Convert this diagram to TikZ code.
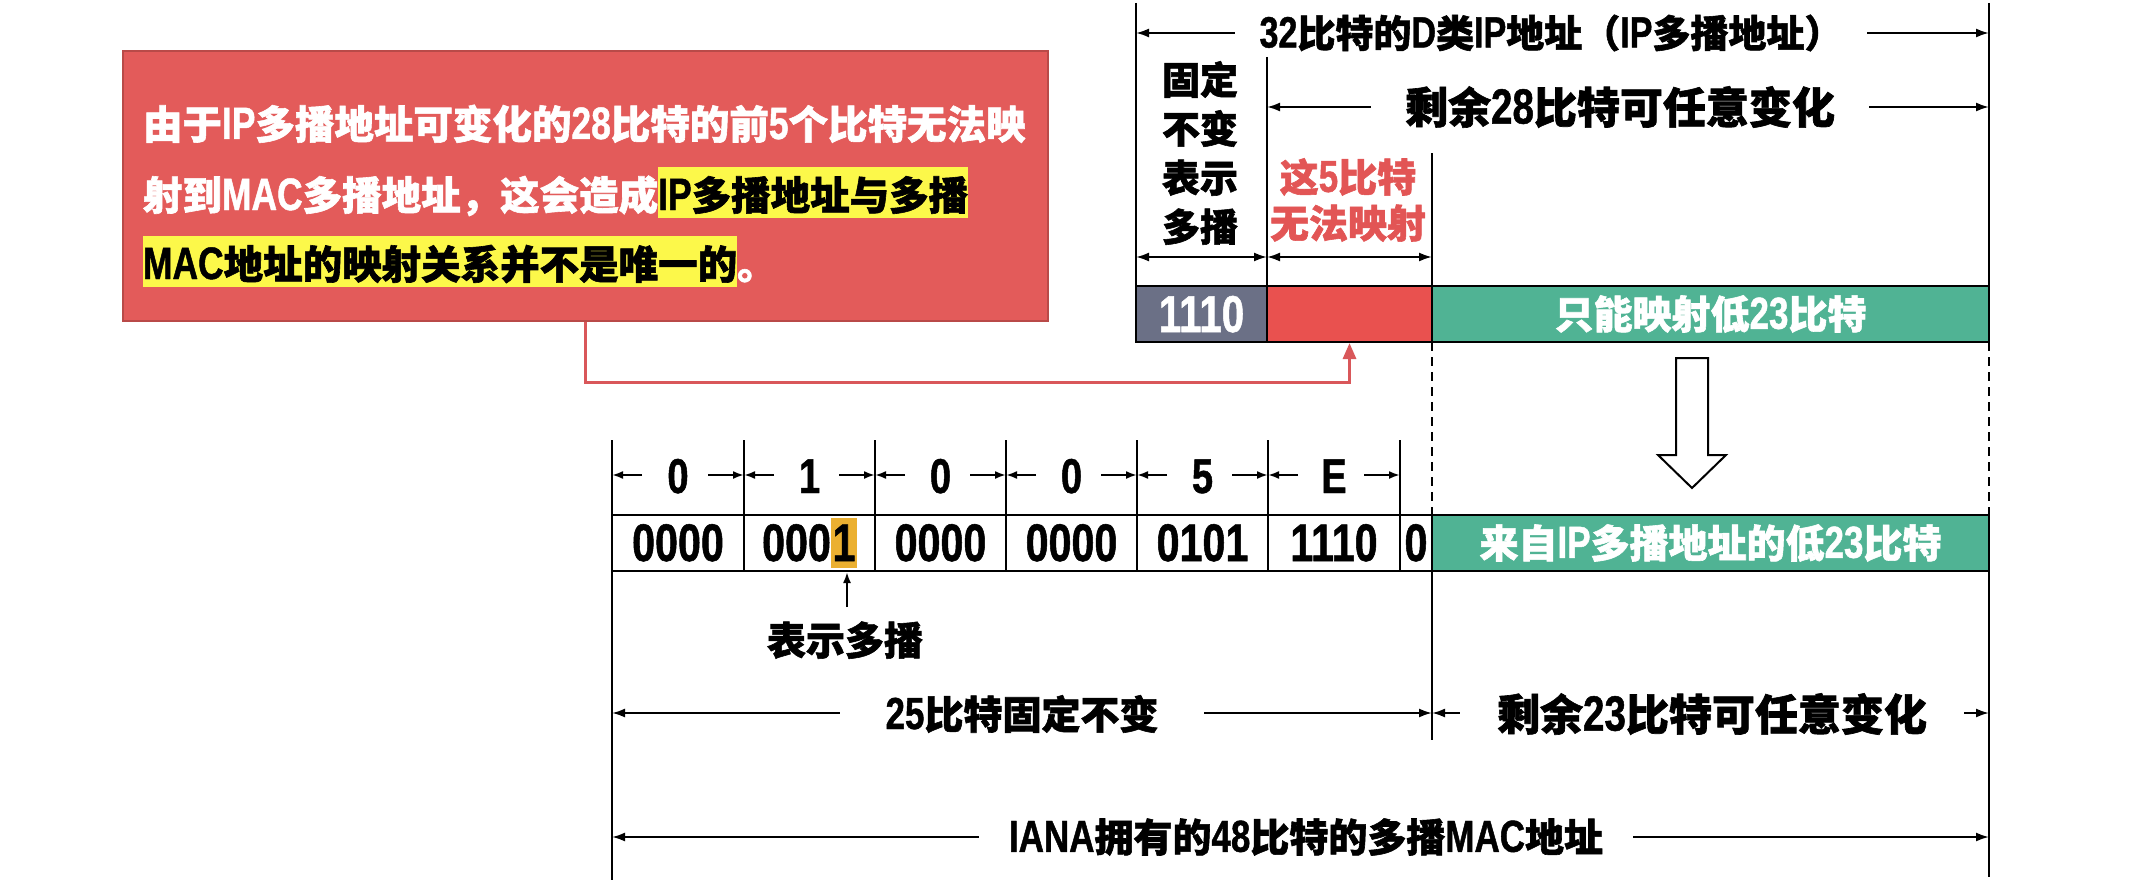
\documentclass[tikz,border=0pt]{standalone}
\usepackage{fontspec}
\setmainfont{Noto Sans CJK SC}[BoldFeatures={FakeBold=1.5}]
\newfontfamily\nf{Liberation Sans}[Scale=1.15,FakeStretch=0.78,BoldFeatures={FakeBold=1}]
\newcommand\nr[1]{{\nf #1}}
\newcommand\fsz[1]{\fontsize{#1}{#1}\selectfont\bfseries}
\newcommand\hly[1]{{\setlength\fboxsep{0pt}\colorbox{hlyellow}{\color{black}\rule[-8pt]{0pt}{51pt}#1}}}
\newcommand\hlo[1]{{\setlength\fboxsep{0pt}\colorbox{hlorange}{\rule[-7pt]{0pt}{50pt}\kern1.5pt#1\kern1.5pt}}}
\usetikzlibrary{arrows.meta,calc}
\definecolor{boxred}{HTML}{E35B5A}
\definecolor{boxborder}{HTML}{B94A48}
\definecolor{hlyellow}{HTML}{FCF84A}
\definecolor{hlorange}{HTML}{EBB031}
\definecolor{slate}{HTML}{6B7086}
\definecolor{cellred}{HTML}{E9514F}
\definecolor{tealg}{HTML}{50B394}
\definecolor{textred}{HTML}{E25555}
\definecolor{connred}{HTML}{D9575A}
\begin{document}
\begin{tikzpicture}[x=1pt,y=-1pt,line width=2pt,
  tip/.style={-{Latex[length=13pt,width=9pt]}},
  dtip/.style={{Latex[length=13pt,width=9pt]}-{Latex[length=13pt,width=9pt]}},
  stip/.style={-{Latex[length=11pt,width=8pt]}},
  lbl/.style={font=\fsz{39},inner sep=0pt},
  gaplbl/.style={lbl,fill=white,inner ysep=2pt},
  vline/.style={line width=2.2pt},
  dline/.style={line width=2pt,dash pattern=on 9pt off 6pt},
  bitcell/.style={draw=black,line width=2pt,inner sep=0pt,minimum height=56pt,
    text height=43pt,text depth=7pt,font=\fsz{46}\nf},
  barcell/.style={draw=black,line width=2pt,inner sep=0pt,minimum height=56pt},
  hexl/.style={font=\fsz{42.5}\nf,inner sep=0pt,anchor=base},
  conn/.style={draw=connred,line width=3pt,-{Triangle[length=16pt,width=13pt]}},
  notebox/.style={draw=boxborder,line width=1.5pt,fill=boxred,inner sep=0pt},
  noteline/.style={font=\fsz{39.5},text=white,inner sep=0pt,anchor=base west}]
\useasboundingbox (0,0) rectangle (2133,888);

% ---------- callout ----------
\node[notebox,minimum width=925pt,minimum height=270pt] (note) at (585.5,186) {};
\node[noteline] (n1) at (142,139) {由于\nr{IP}多播地址可变化的\nr{28}比特的前\nr{5}个比特无法映};
\node[noteline] (n2) at (142,210) {射到\nr{MAC}多播地址，这会造成\hly{\nr{IP}多播地址与多播}};
\node[noteline] (n3) at (142,279) {\hly{\nr{MAC}地址的映射关系并不是唯一的}。};

% ---------- vertical guide lines ----------
\draw[vline] (1136,3) -- (1136,342);
\draw[vline] (1989,3) -- (1989,342);
\draw[vline] (1267,57) -- (1267,342);
\draw[vline] (1432,153) -- (1432,342);
\draw[dline] (1432,342) -- (1432,515);
\draw[dline] (1989,342) -- (1989,515);
\draw[vline] (1432,571) -- (1432,740);
\draw[vline] (1989,515) -- (1989,877);
\draw[vline] (612,440) -- (612,880);

% ---------- top dimension arrows ----------
\draw[dtip] (1136,33) -- (1989,33);
\node[gaplbl,font=\fsz{38},inner xsep=25pt] (t32) at (1551,33) {\nr{32}比特的\nr{D}类\nr{IP}地址（\nr{IP}多播地址）};
\draw[dtip] (1267,107) -- (1989,107);
\node[gaplbl,font=\fsz{43},inner xsep=34pt] (t28) at (1620,107) {剩余\nr{28}比特可任意变化};
\node[lbl,align=center,font=\fsz{38}\fontsize{38}{49}\selectfont] (tfix) at (1200,153) {固定\\不变\\表示\\多播};
\node[lbl,align=center,text=textred,font=\fsz{39}\fontsize{39}{46}\selectfont] (tfive) at (1348,200) {这\nr{5}比特\\无法映射};
\draw[dtip] (1136,257) -- (1267,257);
\draw[dtip] (1267,257) -- (1432,257);

% ---------- IP address bar ----------
\node[bitcell,fill=slate,text=white,minimum width=131pt,font=\fsz{45}\nf] (t1110) at (1201.5,314) {1110};
\node[bitcell,fill=cellred,minimum width=165pt] (tred) at (1349.5,314) {};
\node[barcell,fill=tealg,text=white,minimum width=557pt,font=\fsz{39}] (tgreen) at (1710.5,314) {只能映射低\nr{23}比特};

% connector from callout to the 5 bits
\draw[conn] (note.south) -- ++(0,61) -| (tred.south);

% ---------- hollow down arrow ----------
\draw[line width=2pt,fill=white] (1676,358) -- (1708,358) -- (1708,455) -- (1726,455)
  -- (1692,488) -- (1658,455) -- (1676,455) -- cycle;

% ---------- hex labels ----------
\foreach \a/\b/\t [count=\i] in {612/744/0,744/875/1,875/1006/0,1006/1137/0,1137/1268/5,1268/1400/E}{
  \node[hexl] (h\i) at ({(\a+\b)/2},493) {\t};
  \draw[stip] (\a+30,475) -- (\a,475);
  \draw[stip] (\b-36,475) -- (\b,475);
  \draw[vline] (\b,440) -- (\b,515);
}

% ---------- MAC address bar ----------
\node[bitcell,minimum width=132pt] (b1) at (678,543) {0000};
\node[bitcell,minimum width=131pt] (b2) at (809.5,543) {000\hlo{1}};
\node[bitcell,minimum width=131pt] (b3) at (940.5,543) {0000};
\node[bitcell,minimum width=131pt] (b4) at (1071.5,543) {0000};
\node[bitcell,minimum width=131pt] (b5) at (1202.5,543) {0101};
\node[bitcell,minimum width=132pt] (b6) at (1334,543) {1110};
\node[bitcell,minimum width=32pt] (b7) at (1416,543) {0};
\node[barcell,fill=tealg,text=white,minimum width=557pt,font=\fsz{39}] (b8) at (1710.5,543) {来自\nr{IP}多播地址的低\nr{23}比特};

% pointer to multicast bit
\node[lbl,anchor=base] (tsd) at (845,655) {表示多播};
\draw[stip] (847,607) -- (847,572);

% ---------- bottom dimension arrows ----------
\draw[dtip] (612,713) -- (1432,713);
\node[gaplbl,inner xsep=46pt] (t25) at (1022,714) {\nr{25}比特固定不变};
\draw[dtip] (1432,713) -- (1989,713);
\node[gaplbl,font=\fsz{43},inner xsep=37pt] (t23) at (1712,714) {剩余\nr{23}比特可任意变化};
\draw[dtip] (612,837) -- (1989,837);
\node[gaplbl,inner xsep=30pt] (t48) at (1306,837) {\nr{IANA}拥有的\nr{48}比特的多播\nr{MAC}地址};
\end{tikzpicture}
\end{document}
